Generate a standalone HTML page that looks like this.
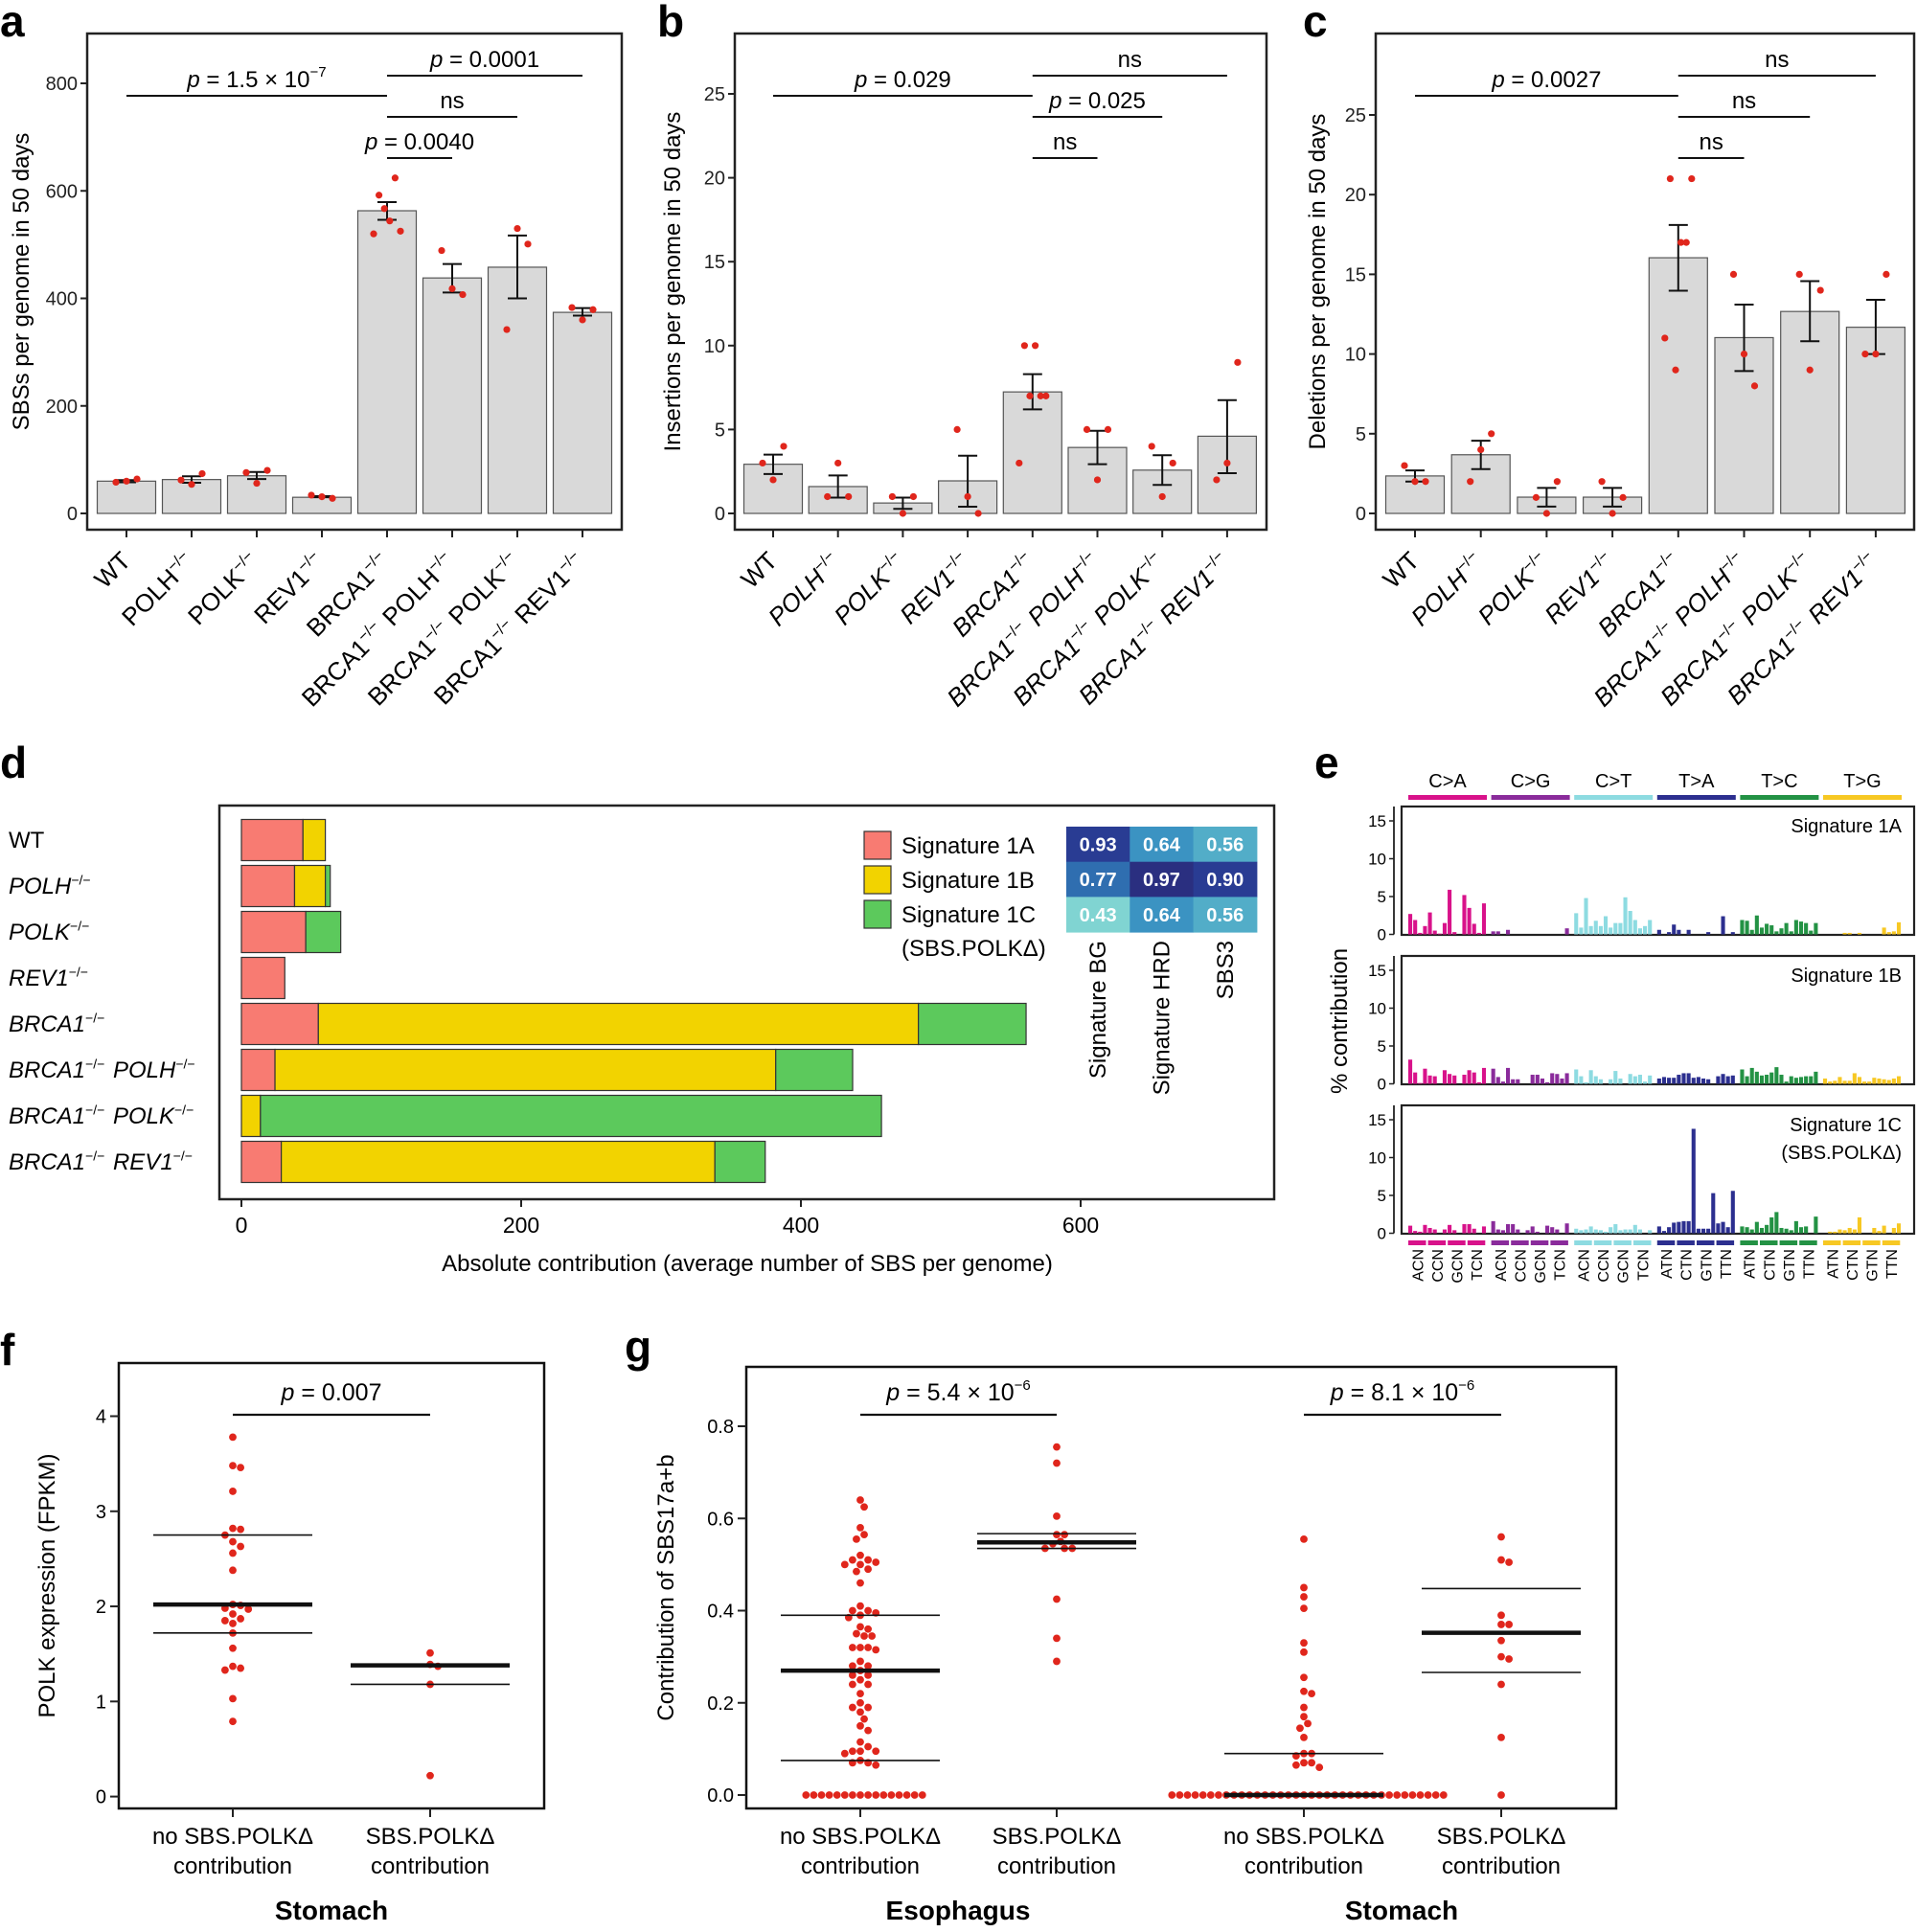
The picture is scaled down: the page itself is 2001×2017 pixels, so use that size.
<!DOCTYPE html>
<html><head><meta charset="utf-8"><title>Figure</title>
<style>
html,body{margin:0;padding:0;background:#fff;}
svg{display:block;font-family:"Liberation Sans",Arial,sans-serif;}
</style></head>
<body>
<svg id="fig" xmlns="http://www.w3.org/2000/svg" width="2001" height="2017" viewBox="0 0 2001 2017">
<rect x="0" y="0" width="2001" height="2017" fill="#fff"/>
</svg>
<script>
// ---------- DATA ----------
const genotypes = [["WT"],["POLH"],["POLK"],["REV1"],["BRCA1"],["BRCA1","POLH"],["BRCA1","POLK"],["BRCA1","REV1"]];
const aMeans = [60,63,70,30,563,438,458,374];
const aLo = [58,57,64,30,546,411,400,368];
const aHi = [62,69,77,32,579,464,517,382];
const aPts = [[58,60,64],[62,54,74],[76,56,80],[34,31,28],[520,592,567,544,624,525],[489,418,407],[342,530,501],[383,360,379]];
const bMeans = [2.93,1.6,0.62,1.94,7.24,3.93,2.58,4.6];
const bLo = [2.35,0.94,0.27,0.4,6.2,2.93,1.7,2.4];
const bHi = [3.5,2.26,0.94,3.44,8.3,4.92,3.47,6.75];
const bPts = [[3,2,4],[1,3,1],[1,0,1],[5,1,0],[3,10,7,10,7,7],[5,2,5],[4,1,3],[2,3,9]];
const cMeans = [2.35,3.68,1.02,1.02,16.04,11.03,12.67,11.68];
const cLo = [2.0,2.78,0.43,0.43,13.97,8.93,10.8,10.0];
const cHi = [2.7,4.56,1.6,1.6,18.1,13.1,14.57,13.4];
const cPts = [[3,2,2],[2,4,5],[1,0,2],[2,0,1],[11,21,9,17,17,21],[15,10,8],[15,9,14],[10,10,15]];
const aTicks = [0,200,400,600,800];
const bTicks = [0,5,10,15,20,25];
const cTicks = [0,5,10,15,20,25];

const dRows = ["WT","POLH","POLK","REV1","BRCA1","BRCA1 POLH","BRCA1 POLK","BRCA1 REV1"];
const dSig1A = [44,38,46,31,55,24,0,28.5];
const dSig1B = [16,22,0,0,429,358,13.6,310];
const dSig1C = [0,3.5,25,0,77,55,444,36];
const dTicks = [0,200,400,600];
const heatRows = ["Signature 1A","Signature 1B","Signature 1C"];
const heatCols = ["Signature BG","Signature HRD","SBS3"];
const heatVals = [[0.93,0.64,0.56],[0.77,0.97,0.90],[0.43,0.64,0.56]];

const eGroups = ["C>A","C>G","C>T","T>A","T>C","T>G"];
const eSub = [["ACN","CCN","GCN","TCN"],["ACN","CCN","GCN","TCN"],["ACN","CCN","GCN","TCN"],["ATN","CTN","GTN","TTN"],["ATN","CTN","GTN","TTN"],["ATN","CTN","GTN","TTN"]];
const eSig1A = [2.7,1.9,0.2,1.1,2.9,0.5,0.1,1.5,5.9,0.3,0,5.2,3.5,1.4,0.2,4.1,
 0.4,0.4,0,0.6,0,0,0,0,0,0,0,0,0,0,0,0.8,
 2.8,0.9,4.8,1.1,1.8,1.1,2.4,0.9,1.5,1.5,4.9,3.1,1.9,0.8,1.1,1.9,
 0.6,0,0.3,1.3,0.6,0,0.6,0,0,0,0.3,0,0,2.4,0,0.3,
 1.9,1.8,0.6,2.5,0.9,1.4,1.2,0.4,0.8,1.5,0.4,1.9,1.7,1.5,0.5,1.5,
 0,0,0,0,0.2,0.2,0,0.2,0,0,0,0,0.9,0.3,0.4,1.6];
const eSig1B = [3.2,1.5,0.1,2.0,1.1,1.0,0,1.8,1.3,1.1,0,1.2,1.8,1.5,0.2,2.1,
 2.0,0.9,0.3,2.1,0.6,0.6,0,0,1.2,1.2,0.7,0.2,1.4,1.3,0.7,1.4,
 1.9,1.0,0.2,1.8,1.0,0.6,0,0.6,1.7,0.7,0,1.3,1.0,1.2,0.3,1.1,
 0.7,0.9,0.8,0.8,1.2,1.4,1.4,0.8,0.9,0.7,0.6,0,1.0,1.3,1.0,1.1,
 1.9,1.0,2.1,1.6,1.1,1.2,1.5,2.2,1.2,0.3,1.0,0.8,0.9,1.0,1.0,1.6,
 0.7,0.3,0.4,0.9,0.4,0.4,1.4,0.9,0.3,0.3,0.8,0.7,0.6,0.5,0.7,1.0];
const eSig1C = [1.0,0.3,0.2,1.1,0.7,0.5,0,0.5,1.1,0.4,0,1.2,1.2,0.6,0,0.9,
 1.6,0.5,0.4,1.2,1.2,0.5,0,0.4,0.9,0.2,0,1.0,0.8,0.5,0,1.3,
 0.6,0.4,0.5,0.9,0.5,0.4,0.2,0.8,1.2,0.4,0.5,0.5,1.1,0.5,0,0.4,
 0.9,0.3,0.8,1.4,1.5,1.6,1.6,13.8,0.6,0.6,0.6,5.3,1.3,1.5,0.8,5.6,
 0.9,0.8,0.5,1.5,0.7,1.1,2.1,2.8,0.7,0.6,0.4,1.6,0.8,0.9,0,2.2,
 0,0.2,0.2,0.5,0.4,0.7,0.5,2.1,0,0,0.7,0.3,1.0,0,0.7,1.3];
const eTicks = [0,5,10,15];

const fNo = [3.78,3.46,3.48,3.21,2.82,2.81,2.75,2.68,2.63,2.56,2.38,2.02,2.01,1.97,1.98,1.92,1.87,1.85,1.82,1.72,1.56,1.37,1.33,1.35,1.03,0.79];
const fYes = [1.51,1.37,1.39,1.18,0.22];
const fStats = [[1.72,2.02,2.75],[1.18,1.38,1.38]];
const fTicks = [0,1,2,3,4];

const gEsoNo = [0,0,0,0,0,0,0,0,0,0,0,0,0,0,0,0,0.64,0.625,0.58,0.555,0.565,0.52,0.51,0.51,0.50,0.50,0.505,0.49,0.485,0.46,0.41,0.40,0.40,0.395,0.39,0.385,0.36,0.365,0.35,0.345,0.345,0.32,0.32,0.32,0.315,0.29,0.28,0.28,0.27,0.26,0.26,0.25,0.24,0.24,0.22,0.20,0.19,0.19,0.18,0.165,0.14,0.15,0.115,0.105,0.095,0.095,0.09,0.095,0.075,0.07,0.07,0.065];
const gEsoYes = [0.755,0.72,0.605,0.565,0.565,0.55,0.545,0.535,0.535,0.535,0.425,0.34,0.29];
const gStoNo = [0.555,0.45,0.43,0.405,0.33,0.31,0.255,0.225,0.22,0.19,0.17,0.155,0.145,0.125,0.09,0.09,0.085,0.07,0.065,0.07,0.06,
 0,0,0,0,0,0,0,0,0,0,0,0,0,0,0,0,0,0,0,0,0,0,0,0,0,0,0,0,0,0,0,0,0,0,0,0];
const gStoYes = [0.56,0.51,0.505,0.39,0.37,0.37,0.335,0.30,0.295,0.24,0.125,0];
const gStats = [[0.075,0.27,0.39],[0.535,0.548,0.567],[0,0,0.09],[0.266,0.352,0.448]];
const gTicks = [0,0.2,0.4,0.6,0.8];

// ---------- HELPERS ----------
const NS = "http://www.w3.org/2000/svg";
const svg = document.getElementById('fig');
function mk(tag, attrs, parent){
  const e = document.createElementNS(NS, tag);
  for (const k in attrs) e.setAttribute(k, attrs[k]);
  (parent || svg).appendChild(e);
  return e;
}
function tspan(parent, txt, attrs){
  const t = document.createElementNS(NS,'tspan');
  for (const k in (attrs||{})) t.setAttribute(k, attrs[k]);
  t.textContent = txt; parent.appendChild(t); return t;
}
const RED = "#e0261c";

function panelLetter(ch, x, y){
  const t = mk('text',{x:x,y:y,'font-size':46,'font-weight':'bold'});
  t.textContent = ch;
  
  
}
function genoLabel(parent, genes, italic, fs){
  genes.forEach((g,i)=>{
    if (i>0) tspan(parent,' ');
    tspan(parent, g, italic && g!=="WT" ? {'font-style':'italic'} : {});
    if (g!=="WT") {
      tspan(parent,'\u2212/\u2212',{'font-size':Math.round(fs*0.6),dy:-fs*0.4});
      tspan(parent,'\u200a',{dy:fs*0.4});
    }
  });
}
function pText(parent, parts){
  parts.forEach(p=>{
    if (p[1]==='it') tspan(parent,p[0],{'font-style':'italic'});
    else if (p[1]==='sup') { tspan(parent,p[0],{'font-size':15,dy:-11}); }
    else tspan(parent,p[0]);
  });
}

// ---------- BAR PANELS a, b, c ----------
function barPanel(id, box, y0, ppu, x0, dx, means, lo, hi, pts, ticks, title, titleX, annots, italicLabels){
  const g = mk('g',{});
  
  
  const Y = v => y0 - v*ppu;
  const X = i => x0 + i*dx;
  const frame = mk('rect',{x:box.l,y:box.t,width:box.r-box.l,height:box.b-box.t,fill:'none',stroke:'#222','stroke-width':2.5},g);
  
  
  ticks.forEach(v=>{
    const tk = mk('line',{x1:box.l-7,x2:box.l,y1:Y(v),y2:Y(v),stroke:'#222','stroke-width':2},g);
    
    
    const tl = mk('text',{x:box.l-10,y:Y(v)+7,'text-anchor':'end','font-size':20,fill:'#222'},g);
    tl.textContent = v;
    
    
  });
  const yt = mk('text',{x:titleX,y:(box.t+box.b)/2,'text-anchor':'middle','font-size':24,transform:`rotate(-90 ${titleX} ${(box.t+box.b)/2})`},g);
  yt.textContent = title;
  
  
  means.forEach((m,i)=>{
    const bw = 61;
    const bar = mk('rect',{x:X(i)-bw/2,y:Y(m),width:bw,height:Y(0)-Y(m),fill:'#d9d9d9',stroke:'#555','stroke-width':1.2},g);
    
    
    const eb = mk('path',{d:`M${X(i)},${Y(lo[i])}V${Y(hi[i])}M${X(i)-10},${Y(lo[i])}H${X(i)+10}M${X(i)-10},${Y(hi[i])}H${X(i)+10}`,stroke:'#111','stroke-width':2,fill:'none'},g);
    
    
    const n = pts[i].length, sp = n>3 ? 5.6 : 11;
    pts[i].forEach((v,j)=>{
      const c = mk('circle',{cx:X(i)+(j-(n-1)/2)*sp,cy:Y(v),r:3.6,fill:RED},g);
      
      
    });
    const xt = mk('line',{x1:X(i),x2:X(i),y1:box.b,y2:box.b+8,stroke:'#222','stroke-width':2},g);
    
    
    const lx = X(i)+6, ly = box.b+34;
    const lab = mk('text',{x:lx,y:ly,'text-anchor':'end','font-size':26,transform:`rotate(-45 ${lx} ${ly})`},g);
    genoLabel(lab, genotypes[i], italicLabels, 26);
    
    
  });
  annots.forEach(a=>{
    const x1 = X(a[0]), x2 = X(a[1]), y = a[2];
    const ln = mk('line',{x1:x1,x2:x2,y1:y,y2:y,stroke:'#111','stroke-width':2},g);
    
    
    const t = mk('text',{x:(x1+x2)/2,y:y-9,'text-anchor':'middle','font-size':24},g);
    pText(t, a[3]);
    
    
  });
}
const L1=100, L2=79, L3=122, L4=165;
barPanel('a',{l:91,r:649,t:35,b:553},536,(536-87)/800,132,68,aMeans,aLo,aHi,aPts,aTicks,'SBSs per genome in 50 days',30,
 [[0,4,L1,[['p','it'],[' = 1.5 \u00d7 10',''],['\u22127','sup']]],[4,7,L2,[['p','it'],[' = 0.0001','']]],[4,6,L3,[['ns','']]],[4,5,L4,[['p','it'],[' = 0.0040','']]]],false);
barPanel('b',{l:767,r:1322,t:35,b:553},536,(536-98)/25,807,67.7,bMeans,bLo,bHi,bPts,bTicks,'Insertions per genome in 50 days',710,
 [[0,4,L1,[['p','it'],[' = 0.029','']]],[4,7,L2,[['ns','']]],[4,6,L3,[['p','it'],[' = 0.025','']]],[4,5,L4,[['ns','']]]],true);
barPanel('c',{l:1436,r:1998,t:35,b:553},536,(536-120)/25,1477,68.7,cMeans,cLo,cHi,cPts,cTicks,'Deletions per genome in 50 days',1383,
 [[0,4,L1,[['p','it'],[' = 0.0027','']]],[4,7,L2,[['ns','']]],[4,6,L3,[['ns','']]],[4,5,L4,[['ns','']]]],true);
panelLetter('a',0,38);
panelLetter('b',686,38);
panelLetter('c',1360,38);

// ---------- PANEL d ----------
(function(){
  const g = mk('g',{});
  
  
  const box = {l:229,r:1330,t:841,b:1252};
  const X = v => 252 + v*(1128-252)/600;
  const rowY = i => 877 + i*48;
  const fr = mk('rect',{x:box.l,y:box.t,width:box.r-box.l,height:box.b-box.t,fill:'none',stroke:'#222','stroke-width':2.5},g);
  
  
  const cols = ['#f87b72','#f2d300','#5cc95c'];
  dRows.forEach((r,i)=>{
    const segs = [dSig1A[i],dSig1B[i],dSig1C[i]];
    let acc = 0;
    segs.forEach((v,k)=>{
      if (v<=0) return;
      const s = mk('rect',{x:X(acc),y:rowY(i)-21.5,width:X(acc+v)-X(acc),height:43,fill:cols[k],stroke:'#333','stroke-width':1.2},g);
      
      
      acc += v;
    });
    const lab = mk('text',{x:9,y:rowY(i)+8,'font-size':24},g);
    genoLabel(lab, r.split(' '), true, 24);
    
    
  });
  dTicks.forEach(v=>{
    const t = mk('line',{x1:X(v),x2:X(v),y1:box.b,y2:box.b+8,stroke:'#222','stroke-width':2},g);
    
    
    const tl = mk('text',{x:X(v),y:1287,'text-anchor':'middle','font-size':23},g);
    tl.textContent = v;
    
    
  });
  const xt = mk('text',{x:780,y:1327,'text-anchor':'middle','font-size':24},g);
  xt.textContent = 'Absolute contribution (average number of SBS per genome)';
  
  
  const legT = [['Signature 1A'],['Signature 1B'],['Signature 1C','(SBS.POLK\u0394)']];
  legT.forEach((lt,k)=>{
    const y = 868 + k*36;
    const sw = mk('rect',{x:902,y:y,width:28,height:29,fill:cols[k],stroke:'#333','stroke-width':1.2},g);
    
    
    lt.forEach((s,j)=>{
      const t = mk('text',{x:941,y:y+23+j*35,'font-size':24},g);
      t.textContent = s;
      
      
    });
  });
  const hc = v => v>=0.9 ? (v>=0.95?'#2a2f80':'#293c93') : v>=0.75 ? '#2f6eb0' : v>=0.6 ? '#3b93c2' : v>=0.5 ? '#52adc8' : '#80d4d2';
  const cw = 66.3, ch = 36.7;
  heatVals.forEach((row,i)=>row.forEach((v,j)=>{
    const c = mk('rect',{x:1113+j*cw,y:863+i*ch,width:cw+0.5,height:ch+0.5,fill:hc(v)},g);
    
    
    const t = mk('text',{x:1113+j*cw+cw/2,y:863+i*ch+ch/2+7,'text-anchor':'middle','font-size':20,'font-weight':'bold',fill:'#fff'},g);
    t.textContent = v.toFixed(2);
    
    
  }));
  heatCols.forEach((s,j)=>{
    const x = 1113+j*cw+cw/2+8, y = 982;
    const t = mk('text',{x:x,y:y,'text-anchor':'end','font-size':24,transform:`rotate(-90 ${x} ${y})`},g);
    t.textContent = s;
    
    
  });
})();
panelLetter('d',0,812);

// ---------- PANEL e ----------
(function(){
  const g = mk('g',{});
  
  
  const cols = ['#d8128a','#8a2b9b','#8ddbe1','#2c2f8f','#239244','#f7c823'];
  const gx = k => 1470 + k*86.6;
  const bx = i => gx(Math.floor(i/16)) + (i%16)*5.13;
  eGroups.forEach((s,k)=>{
    const r = mk('rect',{x:gx(k),y:830,width:82,height:5,fill:cols[k]},g);
    
    
    const t = mk('text',{x:gx(k)+41,y:822,'text-anchor':'middle','font-size':20},g);
    t.textContent = s;
    
    
    eSub[k].forEach((sub,m)=>{
      const x0 = gx(k)+m*20.6;
      const rr = mk('rect',{x:x0,y:1295,width:18.5,height:5,fill:cols[k]},g);
      
      
      const tx = x0+9.25+6, ty = 1304;
      const tt = mk('text',{x:tx,y:ty,'text-anchor':'end','font-size':16,transform:`rotate(-90 ${tx} ${ty})`},g);
      tt.textContent = sub;
      
      
    });
  });
  const sigs = [eSig1A,eSig1B,eSig1C];
  const titles = [['Signature 1A'],['Signature 1B'],['Signature 1C','(SBS.POLK\u0394)']];
  sigs.forEach((vals,p)=>{
    const top = 842 + p*156, bot = top+134, y0 = bot-0.5;
    const Y = v => y0 - v*7.9;
    const fr = mk('rect',{x:1463,y:top,width:535,height:bot-top,fill:'none',stroke:'#222','stroke-width':2.2},g);
    
    
    const ax = mk('line',{x1:1455,x2:1455,y1:top,y2:y0,stroke:'#222','stroke-width':1.8},g);
    
    
    eTicks.forEach(v=>{
      const tk = mk('line',{x1:1450,x2:1455,y1:Y(v),y2:Y(v),stroke:'#222','stroke-width':1.5},g);
      
      
      const tl = mk('text',{x:1447,y:Y(v)+6,'text-anchor':'end','font-size':17},g);
      tl.textContent = v;
      
      
    });
    vals.forEach((v,i)=>{
      if (v<=0) return;
      const b = mk('rect',{x:bx(i),y:Y(v),width:4.1,height:Y(0)-Y(v),fill:cols[Math.floor(i/16)]},g);
      
      
    });
    titles[p].forEach((s,j)=>{
      const t = mk('text',{x:1985,y:top+27+j*29,'text-anchor':'end','font-size':20},g);
      t.textContent = s;
      
      
    });
  });
  const yt = mk('text',{x:1406,y:1066,'text-anchor':'middle','font-size':24,transform:'rotate(-90 1406 1066)'},g);
  yt.textContent = '% contribution';
  
  
})();
panelLetter('e',1372,812);

// ---------- SWARM PANELS f, g ----------
function swarm(vals, cx, Y, d){
  const idx = vals.map((v,i)=>i).sort((a,b)=>vals[b]-vals[a]);
  const placed = [], out = new Array(vals.length);
  idx.forEach(i=>{
    const y = Y(vals[i]);
    for (let k=0;k<200;k++){
      const off = (k===0?0:(k%2?1:-1)*Math.ceil(k/2)*d*0.5);
      const x = cx+off;
      if (placed.every(p=>Math.hypot(p[0]-x,p[1]-y)>=d-0.01)){ placed.push([x,y]); out[i]=[x,y]; break; }
    }
  });
  return out;
}
function swarmPanel(id, box, y0, ppu, centers, groups, stats, ticks, tickFmt, title, titleX, annots, cats, tissues){
  const g = mk('g',{});
  
  
  const Y = v => y0 - v*ppu;
  const fr = mk('rect',{x:box.l,y:box.t,width:box.r-box.l,height:box.b-box.t,fill:'none',stroke:'#111','stroke-width':2.5},g);
  
  
  ticks.forEach(v=>{
    const tk = mk('line',{x1:box.l-9,x2:box.l,y1:Y(v),y2:Y(v),stroke:'#222','stroke-width':2},g);
    
    
    const tl = mk('text',{x:box.l-13,y:Y(v)+7,'text-anchor':'end','font-size':20},g);
    tl.textContent = tickFmt(v);
    
    
  });
  const cy = (box.t+box.b)/2;
  const yt = mk('text',{x:titleX,y:cy,'text-anchor':'middle','font-size':24,transform:`rotate(-90 ${titleX} ${cy})`},g);
  yt.textContent = title;
  
  
  groups.forEach((vals,k)=>{
    const cx = centers[k];
    const pos = swarm(vals, cx, Y, 8.1);
    pos.forEach(p=>{
      const c = mk('circle',{cx:p[0],cy:p[1],r:3.9,fill:RED},g);
      
      
    });
    const st = stats[k];
    [[st[0],1.6],[st[2],1.6],[st[1],4.5]].forEach(s=>{
      const l = mk('line',{x1:cx-83,x2:cx+83,y1:Y(s[0]),y2:Y(s[0]),stroke:'#111','stroke-width':s[1]},g);
      
      
    });
    const tk = mk('line',{x1:cx,x2:cx,y1:box.b,y2:box.b+9,stroke:'#222','stroke-width':2},g);
    
    
    cats[k].forEach((s,j)=>{
      const t = mk('text',{x:cx,y:1925+j*31,'text-anchor':'middle','font-size':24},g);
      t.textContent = s;
      
      
    });
  });
  annots.forEach(a=>{
    const x1 = centers[a[0]], x2 = centers[a[1]];
    const l = mk('line',{x1:x1,x2:x2,y1:1477,y2:1477,stroke:'#111','stroke-width':2.2},g);
    
    
    const t = mk('text',{x:(x1+x2)/2,y:1462,'text-anchor':'middle','font-size':25},g);
    pText(t, a[2]);
    
    
  });
  tissues.forEach(ts=>{
    const t = mk('text',{x:ts[1],y:2004,'text-anchor':'middle','font-size':28,'font-weight':'bold'},g);
    t.textContent = ts[0];
    
    
  });
}
const catNo = ['no SBS.POLK\u0394','contribution'], catYes = ['SBS.POLK\u0394','contribution'];
swarmPanel('f',{l:124,r:568,t:1423,b:1888},1875.6,(1875.6-1478.5)/4,[243,449],[fNo,fYes],fStats,fTicks,v=>String(v),
  'POLK expression (FPKM)',57,[[0,1,[['p','it'],[' = 0.007','']]]],[catNo,catYes],[['Stomach',346]]);
swarmPanel('g',{l:779,r:1687,t:1427,b:1888},1874,(1874-1489)/0.8,[898,1103,1361,1567],[gEsoNo,gEsoYes,gStoNo,gStoYes],gStats,gTicks,v=>v.toFixed(1),
  'Contribution of SBS17a+b',703,[[0,1,[['p','it'],[' = 5.4 \u00d7 10',''],['\u22126','sup']]],[2,3,[['p','it'],[' = 8.1 \u00d7 10',''],['\u22126','sup']]]],
  [catNo,catYes,catNo,catYes],[['Esophagus',1000],['Stomach',1463]]);
panelLetter('f',0,1425);
panelLetter('g',652,1422);
</script>
</body></html>
